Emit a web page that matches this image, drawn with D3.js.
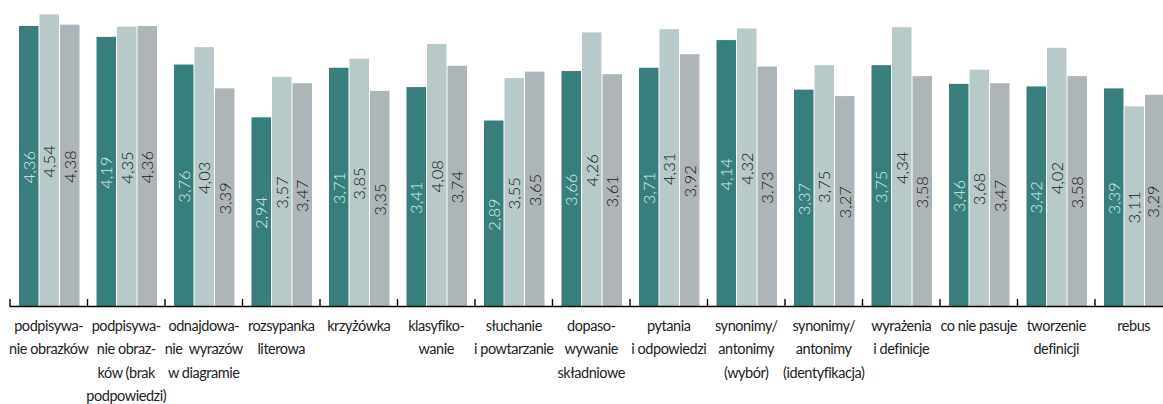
<!DOCTYPE html>
<html><head><meta charset="utf-8">
<script src="https://cdn.jsdelivr.net/npm/d3@7"></script>
<style>
html,body{margin:0;padding:0;background:#fff;}
svg{display:block;font-family:Lato, "Open Sans", sans-serif;}
</style></head>
<body><svg id="chart" width="1163" height="404"></svg>
<script>
const categories = [
  ["podpisywa-","nie obrazków"],
  ["podpisywa-","nie obraz-","ków (brak","podpowiedzi)"],
  ["odnajdowa-","nie  wyrazów","w diagramie"],
  ["rozsypanka","literowa"],
  ["krzyżówka"],
  ["klasyfiko-","wanie"],
  ["słuchanie","i powtarzanie"],
  ["dopaso-","wywanie","składniowe"],
  ["pytania","i odpowiedzi"],
  ["synonimy/","antonimy","(wybór)"],
  ["synonimy/","antonimy","(identyfikacja)"],
  ["wyrażenia","i definicje"],
  ["co nie pasuje"],
  ["tworzenie","definicji"],
  ["rebus"]
];
const series1 = [4.36,4.19,3.76,2.94,3.71,3.41,2.89,3.66,3.71,4.14,3.37,3.75,3.46,3.42,3.39];
const series2 = [4.54,4.35,4.03,3.57,3.85,4.08,3.55,4.26,4.31,4.32,3.75,4.34,3.68,4.02,3.11];
const series3 = [4.38,4.36,3.39,3.47,3.35,3.74,3.65,3.61,3.92,3.73,3.27,3.58,3.47,3.58,3.29];
const seriesKeys = ["s1","s2","s3"];
const colors = ["#367f7c","#b7c9c8","#aeb5b8"];
const labelColors = ["#dcecea","#151515","#151515"];

const W = 1163;
const svg = d3.select("#chart");
const idx = categories.map((c,i)=>i);
const baseY = 306.5;
const x = d3.scaleBand().domain(idx).range([10, 10 + 15*77.5]).padding(0);
const xi = d3.scaleBand().domain(seriesKeys).range([9, 69.5]).paddingInner(0.05);
const y = d3.scaleLinear().domain([0, 4.763]).range([baseY, 0]);

const data = [series1, series2, series3];
const g = svg.append("g");
idx.forEach(i => {
  const gg = g.append("g").attr("transform", `translate(${x(i)},0)`);
  seriesKeys.forEach((k, s) => {
    const v = data[s][i];
    gg.append("rect")
      .attr("x", xi(k)).attr("width", xi.bandwidth())
      .attr("y", y(v)).attr("height", y(0) - y(v))
      .attr("fill", colors[s]);
    const cx = xi(k) + xi.bandwidth()/2;
    const cy = (y(v) + y(0))/2;
    const t = gg.append("text")
      .attr("transform", `translate(${cx + 6},${cy + 1}) rotate(-90)`)
      .attr("text-anchor", "middle")
      .attr("font-size", 16.5)
      .attr("font-weight", 300)
      .attr("fill", labelColors[s])
      .text(v.toFixed(2).replace(".", ","));
    // keep labels inside the picture
    const bb = t.node().getBoundingClientRect();
    if (bb.right > W - 0.5) {
      const shift = bb.right - (W - 0.5);
      t.attr("transform", `translate(${cx + 6 - shift},${cy + 1}) rotate(-90)`);
    }
  });
});

// axis
const axis = d3.axisBottom(x).tickSize(0).tickFormat("");
const ax = svg.append("g").attr("transform", `translate(0,${baseY})`).call(axis);
ax.select(".domain").attr("d", `M10,0H${W}`).attr("stroke", "#000").attr("stroke-width", 1.6);
// tick marks at band boundaries
svg.append("g").selectAll("line").data(idx).join("line")
  .attr("x1", d => x(d)).attr("x2", d => x(d))
  .attr("y1", baseY - 7.5).attr("y2", baseY)
  .attr("stroke", "#000").attr("stroke-width", 1.4);

// category labels
const lab = svg.append("g");
idx.forEach(i => {
  const t = lab.append("text")
    .attr("x", x(i) + x.bandwidth()/2)
    .attr("y", 330.5)
    .attr("text-anchor", "middle")
    .attr("font-size", 14.5)
    .attr("letter-spacing", "-0.45px")
    .attr("fill", "#222");
  categories[i].forEach((line, j) => {
    t.append("tspan").attr("x", x(i) + x.bandwidth()/2).attr("dy", j === 0 ? 0 : 23.5)
      .attr("xml:space", "preserve").text(line);
  });
});
</script></body></html>
